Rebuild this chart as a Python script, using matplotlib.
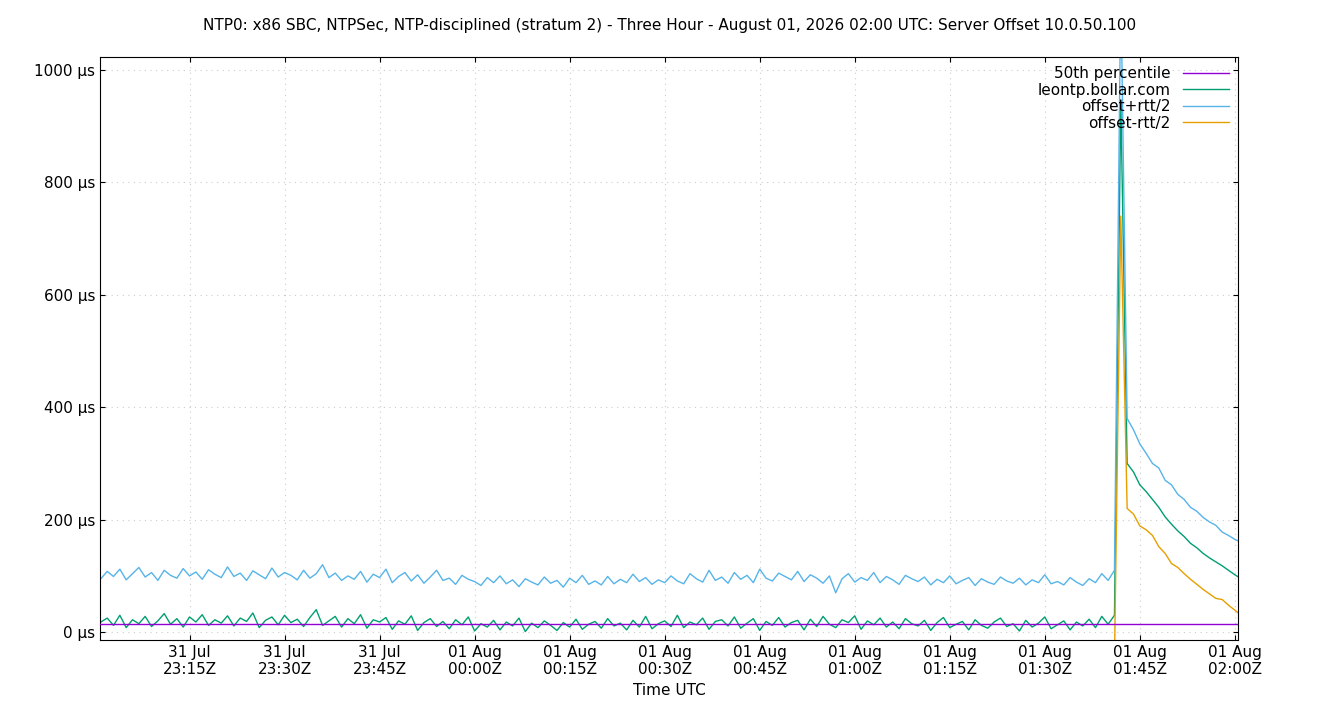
import matplotlib
matplotlib.use("Agg")
import matplotlib.pyplot as plt
import pandas as pd
import numpy as np

start = "2026-07-31 23:01"
offset_us = [
 18,25,12,30,8,22,15,28,10,20,33,14,24,9,27,18,31,12,22,16,
 29,11,25,19,34,8,21,27,13,30,17,23,10,26,40,12,20,28,9,24,
 15,31,7,22,18,26,5,20,14,29,3,17,24,10,19,6,22,13,27,2,
 15,9,21,4,18,11,25,1,16,8,20,12,3,17,9,23,5,14,19,7,
 24,11,16,4,21,9,28,6,15,20,10,30,8,18,13,25,5,19,22,11,
 27,7,16,24,3,19,12,26,9,17,21,4,23,10,28,14,8,22,17,29,
 5,20,13,25,9,18,6,24,15,11,21,3,17,26,8,14,19,4,22,12,
 7,18,25,10,15,2,21,9,16,27,6,13,20,4,18,11,23,8,28,14,
 30,
 945, 300, 285, 262, 250, 236, 222, 205, 192, 180, 170, 158, 150, 140, 132,
 125, 118, 110, 102, 95, 88, 82, 75,
]
upper_us = [
 95,108,99,112,93,104,115,98,106,92,110,101,96,113,100,107,94,111,103,97,
 116,99,105,92,109,102,95,114,98,106,101,93,110,96,104,120,97,105,92,100,
 94,108,89,103,97,112,88,99,106,91,102,87,98,110,92,96,85,101,94,90,
 83,97,88,100,86,93,81,95,89,84,98,87,92,80,96,88,101,85,91,84,
 99,86,94,88,103,90,97,85,93,88,100,91,86,104,95,89,110,92,98,87,
 106,94,101,88,112,96,91,105,99,93,108,90,102,96,87,100,70,95,104,89,
 97,92,106,88,99,93,85,101,95,90,98,84,94,88,100,86,92,97,83,95,
 89,85,98,91,87,96,84,93,88,102,86,90,84,97,89,83,95,88,104,92,
 110,
 1150, 380, 360, 335, 318, 300, 292, 270, 262, 245, 236, 222, 215, 204, 196,
 190, 178, 172, 165, 160, 150, 145, 155,
]
pct50_us = 15

times = pd.date_range(start, periods=len(offset_us), freq="1min")
off = np.array(offset_us, float)
up = np.array(upper_us, float)
low = 2 * off - up

fig = plt.figure(figsize=(13.4, 7.2), dpi=100)
ax = fig.add_axes([100/1340, 80/720, 1138/1340, 583/720])
ax.axhline(pct50_us, color="#9400d3", lw=1, label="50th percentile", zorder=5)
ax.plot(times, off, color="#009e73", lw=1, label="leontp.bollar.com")
ax.plot(times, up, color="#56b4e9", lw=1, label="offset+rtt/2")
ax.plot(times, low, color="#e69f00", lw=1, label="offset-rtt/2")

ax.set_xlim(pd.Timestamp("2026-07-31 23:00:52"), pd.Timestamp("2026-08-01 02:00:30"))
ax.set_ylim(-14, 1023)
ax.set_yticks([0, 200, 400, 600, 800, 1000])
ax.set_yticklabels([f"{v} µs" for v in [0, 200, 400, 600, 800, 1000]])
ticks = pd.date_range("2026-07-31 23:15", "2026-08-01 02:00", freq="15min")
ax.set_xticks(ticks)
ax.set_xticklabels([t.strftime("%d %b\n%H:%MZ") for t in ticks])
ax.tick_params(direction="in", labelsize=11, top=True, right=True)
ax.grid(True, color="#cccccc", ls=(0, (1, 4)), lw=0.8)
ax.set_xlabel("Time UTC", fontsize=11)
fig.suptitle("NTP0: x86 SBC, NTPSec, NTP-disciplined (stratum 2) - Three Hour - August 01, 2026 02:00 UTC: Server Offset 10.0.50.100",
             fontsize=11, y=0.975)
ax.legend(loc="upper right", frameon=False, fontsize=11, markerfirst=False,
          handlelength=3, borderaxespad=0.2, labelspacing=0.1)
fig.savefig("out.png")
